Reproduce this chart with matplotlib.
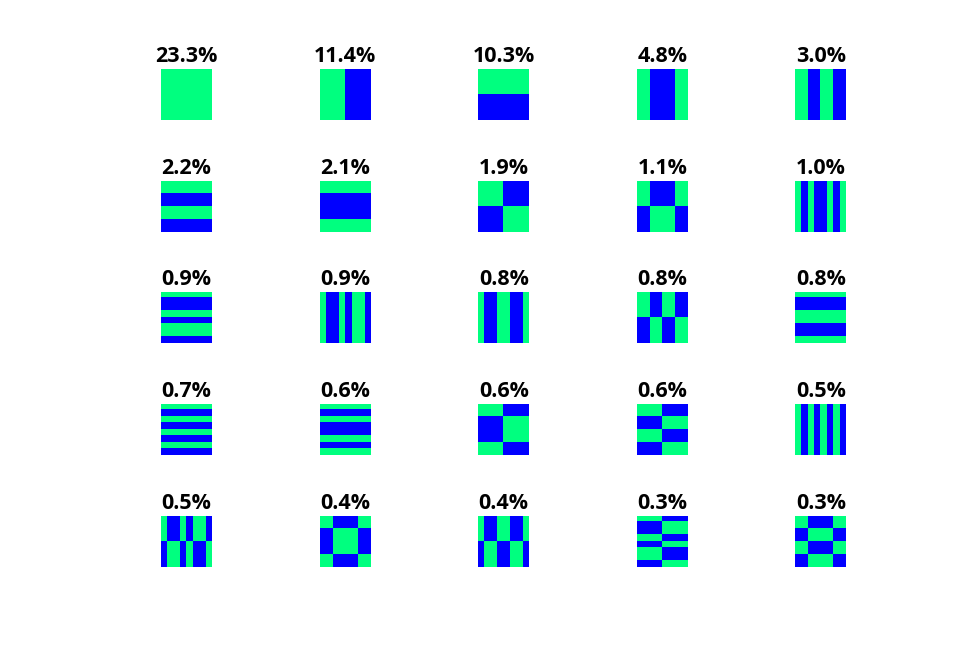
import matplotlib.pyplot as plt
import numpy as np
from matplotlib.colors import ListedColormap

# share of each pattern, in the order shown
percents = [23.3, 11.4, 10.3, 4.8, 3.0,
            2.2, 2.1, 1.9, 1.1, 1.0,
            0.9, 0.9, 0.8, 0.8, 0.8,
            0.7, 0.6, 0.6, 0.6, 0.5,
            0.5, 0.4, 0.4, 0.3, 0.3]

# 8x8 sign patterns, rows from top, g = green (+), b = blue (-)
patterns = [
    ["gggggggg"] * 8,
    ["ggggbbbb"] * 8,
    ["gggggggg"] * 4 + ["bbbbbbbb"] * 4,
    ["ggbbbbgg"] * 8,
    ["ggbbggbb"] * 8,

    ["gggggggg"] * 2 + ["bbbbbbbb"] * 2 + ["gggggggg"] * 2 + ["bbbbbbbb"] * 2,
    ["gggggggg"] * 2 + ["bbbbbbbb"] * 4 + ["gggggggg"] * 2,
    ["ggggbbbb"] * 4 + ["bbbbgggg"] * 4,
    ["ggbbbbgg"] * 4 + ["bbggggbb"] * 4,
    ["gbgbbgbg"] * 8,

    ["gggggggg", "bbbbbbbb", "bbbbbbbb", "gggggggg",
     "bbbbbbbb", "gggggggg", "gggggggg", "bbbbbbbb"],
    ["gbbgbggb"] * 8,
    ["gbbggbbg"] * 8,
    ["ggbbggbb"] * 4 + ["bbggbbgg"] * 4,
    ["gggggggg"] + ["bbbbbbbb"] * 2 + ["gggggggg"] * 2 + ["bbbbbbbb"] * 2 + ["gggggggg"],

    ["gggggggg", "bbbbbbbb"] * 4,
    ["gggggggg", "bbbbbbbb", "gggggggg", "bbbbbbbb",
     "bbbbbbbb", "gggggggg", "bbbbbbbb", "gggggggg"],
    ["ggggbbbb"] * 2 + ["bbbbgggg"] * 4 + ["ggggbbbb"] * 2,
    ["ggggbbbb"] * 2 + ["bbbbgggg"] * 2 + ["ggggbbbb"] * 2 + ["bbbbgggg"] * 2,
    ["gbgbgbgb"] * 8,

    ["gbbgbggb"] * 4 + ["bggbgbbg"] * 4,
    ["ggbbbbgg"] * 2 + ["bbggggbb"] * 4 + ["ggbbbbgg"] * 2,
    ["gbbggbbg"] * 4 + ["bggbbggb"] * 4,
    ["ggggbbbb", "bbbbgggg", "bbbbgggg", "ggggbbbb",
     "bbbbgggg", "ggggbbbb", "ggggbbbb", "bbbbgggg"],
    ["ggbbbbgg"] * 2 + ["bbggggbb"] * 2 + ["ggbbbbgg"] * 2 + ["bbggggbb"] * 2,
]

cmap = ListedColormap([(0, 0, 1), (0, 1, 0.5)])

fig, axes = plt.subplots(5, 5, figsize=(9.74, 6.48), dpi=100)
fig.subplots_adjust(left=161 / 974, right=846.4 / 974,
                    top=1 - 69 / 648, bottom=1 - 566.8 / 648,
                    wspace=2.11, hspace=1.19)

for ax, pct, pat in zip(axes.flat, percents, patterns):
    grid = np.array([[1 if c == "g" else 0 for c in row] for row in pat])
    ax.imshow(grid, cmap=cmap, vmin=0, vmax=1, interpolation="nearest", aspect="auto")
    ax.set_title(f"{pct:.1f}%", fontsize=15.5, fontweight="bold",
                 family="Open Sans", pad=5)
    ax.axis("off")

plt.savefig("out.png")
